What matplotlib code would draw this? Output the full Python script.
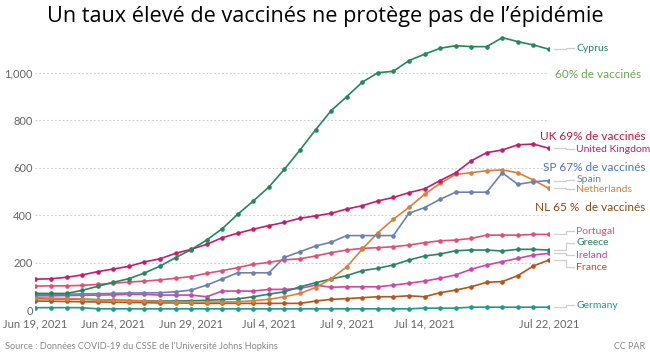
import numpy as np
import pandas as pd
import matplotlib
matplotlib.use("Agg")
import matplotlib.pyplot as plt
import matplotlib.dates as mdates

plt.rcParams['font.family'] = ['Lato', 'DejaVu Sans']

# daily cases per million, Jun 19 -> Jul 22 2021
dates = pd.date_range("2021-06-19", "2021-07-22", freq="D")

cyprus = [70, 70, 70, 83, 100, 117, 132, 156, 185, 221, 255, 295, 343, 404, 460, 519, 594,
          675, 760, 841, 900, 961, 1001, 1007, 1052, 1079, 1104, 1115, 1111, 1111, 1149, 1132, 1118, 1100]
uk = [130, 132, 138, 148, 162, 173, 184, 203, 216, 239, 256, 277, 305, 324, 341, 356, 370,
      387, 397, 408, 426, 440, 460, 475, 495, 511, 546, 579, 629, 664, 675, 697, 700, 682]
spain = [66, 66, 67, 68, 69, 70, 72, 72, 73, 77, 84, 105, 131, 157, 157, 157, 222,
         246, 270, 286, 314, 314, 314, 314, 408, 432, 467, 497, 497, 497, 579, 530, 541, 546]
netherlands = [52, 50, 48, 46, 44, 42, 40, 38, 36, 34, 32, 33, 34, 35, 39, 45, 56,
               70, 95, 132, 182, 257, 326, 383, 433, 488, 534, 572, 579, 588, 591, 579, 548, 513]
portugal = [101, 102, 102, 104, 108, 113, 118, 122, 127, 134, 141, 155, 166, 179, 193, 201, 212,
            216, 228, 242, 253, 260, 263, 267, 274, 284, 292, 295, 302, 316, 316, 316, 319, 319]
greece = [48, 47, 46, 45, 43, 42, 40, 39, 38, 38, 39, 41, 44, 47, 56, 67, 77,
          98, 115, 131, 145, 166, 176, 190, 211, 228, 236, 250, 253, 253, 249, 256, 256, 253]
ireland = [60, 60, 61, 62, 63, 64, 66, 66, 63, 63, 63, 56, 80, 80, 80, 87, 87,
           91, 105, 96, 98, 98, 98, 105, 113, 122, 134, 148, 172, 190, 204, 218, 232, 239]
france = [38, 37, 36, 35, 34, 33, 32, 31, 30, 30, 29, 28, 28, 28, 28, 28, 28,
          28, 38, 45, 48, 52, 56, 56, 60, 56, 73, 84, 98, 117, 120, 145, 186, 211]
germany = [10, 10, 10, 10, 5, 5, 5, 5, 5, 5, 5, 5, 5, 5, 5, 5, 5,
           5, 5, 5, 5, 5, 5, 5, 5, 8, 8, 8, 12, 12, 12, 12, 12, 12]

# name, values, colour, label y (data units)
series = [
    ("Germany", germany, "#1f9a8a", 21),
    ("France", france, "#b8531d", 181),
    ("Ireland", ireland, "#cf45a8", 232),
    ("Greece", greece, "#2b8466", 283),
    ("Portugal", portugal, "#df5078", 333),
    ("Netherlands", netherlands, "#d9803a", 510),
    ("Spain", spain, "#6b82ad", 549),
    ("United Kingdom", uk, "#c41e6a", 679),
    ("Cyprus", cyprus, "#23875f", 1105),
]

tick_dates = ["2021-06-19", "2021-06-24", "2021-06-29", "2021-07-04",
              "2021-07-09", "2021-07-14", "2021-07-22"]
yticks = [0, 200, 400, 600, 800, 1000]

fig = plt.figure(figsize=(6.5, 3.58), dpi=100)
ax = fig.add_axes([0.0546, 0.1307, 0.79, 0.7715])

for y in yticks[1:]:
    ax.axhline(y, color="#cccccc", lw=0.8, ls=(0, (1.5, 2)), zorder=0)

one_day = pd.Timedelta(days=1)
end = dates[-1]
for name, vals, col, ly in series:
    ax.plot(dates, vals, color=col, lw=1.2, marker="o", ms=2.3, zorder=3)
    # connector to the end label
    xs = [end + 0.3 * one_day, end + 1.1 * one_day, end + 1.1 * one_day, end + 1.6 * one_day]
    ys = [vals[-1], vals[-1], ly, ly]
    ax.plot(xs, ys, color="#cfcfcf", lw=0.9, clip_on=False)
    ax.text(end + 1.75 * one_day, ly, name, color=col, fontsize=7.5,
            va="center", ha="left", clip_on=False)

# vaccination annotations
ax.text(end + 0.4 * one_day, 995, "60% de vaccinés", color="#6aa84f", fontsize=8.5, va="center")
ax.text(end + 6.2 * one_day, 730, "UK 69% de vaccinés", color="#d0103a", fontsize=8.5,
        va="center", ha="right")
ax.text(end + 6.2 * one_day, 603, "SP 67% de vaccinés", color="#4a78b5", fontsize=8.5,
        va="center", ha="right")
ax.text(end + 6.2 * one_day, 434, "NL 65 %  de vaccinés", color="#8a4a12", fontsize=8.5,
        va="center", ha="right")

ax.set_xlim(dates[0], dates[-1])
ax.set_ylim(-5, 1160)
ax.set_yticks(yticks)
ax.set_yticklabels(["0", "200", "400", "600", "800", "1,000"])
ax.set_xticks(pd.to_datetime(tick_dates))
ax.xaxis.set_major_formatter(mdates.DateFormatter("%b %-d, %Y"))
ax.tick_params(axis="both", length=0, labelsize=8, colors="#666666")
ax.tick_params(axis="y", pad=2)
ax.tick_params(axis="x", pad=5)
for s in ax.spines.values():
    s.set_visible(False)

fig.text(0.5, 0.955, "Un taux élevé de vaccinés ne protège pas de l’épidémie",
         ha="center", va="center", fontsize=15.6, family=["Open Sans", "DejaVu Sans"])
fig.text(0.008, 0.033, "Source : Données COVID-19 du CSSE de l’Université Johns Hopkins",
         ha="left", va="center", fontsize=6.6, color="#888888")
fig.text(0.992, 0.033, "CC PAR", ha="right", va="center", fontsize=6.5, color="#888888")

fig.savefig("out.png", dpi=100)
